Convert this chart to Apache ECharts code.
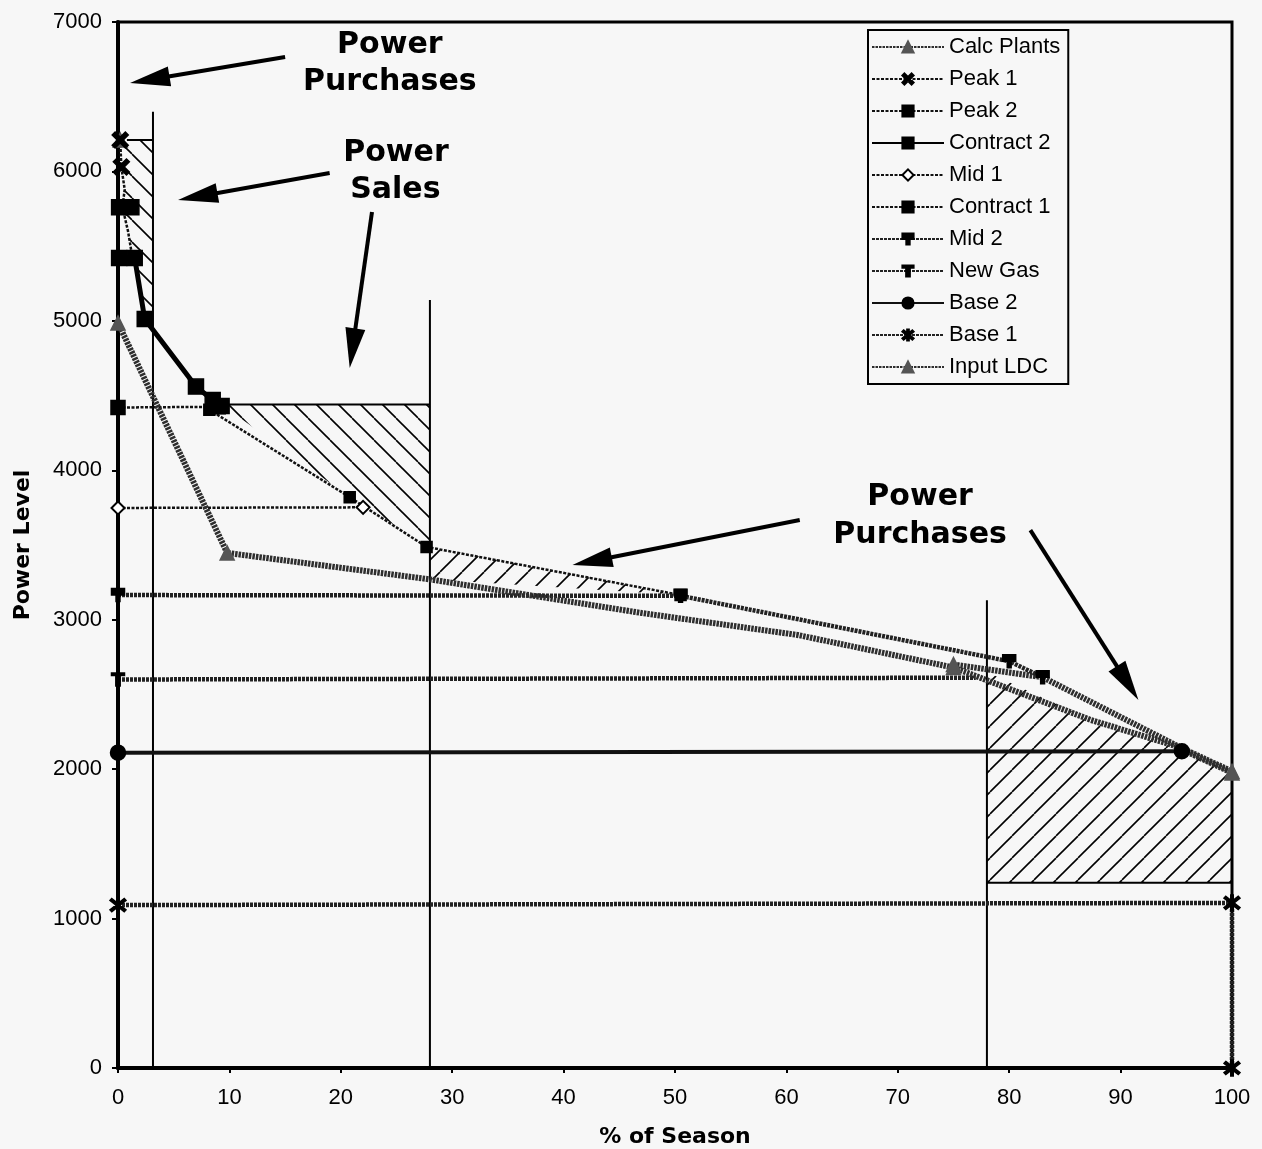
<!DOCTYPE html>
<html>
<head>
<meta charset="utf-8">
<title>Power Level vs % of Season</title>
<script src="https://cdn.jsdelivr.net/npm/echarts/dist/echarts.min.js"></script>
<style>
  html, body { margin: 0; padding: 0; background: #f7f7f7; }
  #chart { width: 1262px; height: 1149px; }
</style>
</head>
<body>
<div id="chart"></div>
<script>
// values, each point is [% of season, power level]
// null = gap in the line
var calcPlants = [[0.2, 6210], null, [75, 2700], [83, 2615], [95.5, 2140], [100, 1985]];
var peak1 = [[0.2, 6210], [0.3, 6030], [0.6, 5880], [0.4, 5760], [0.9, 5600], [1.3, 5420]];
var peak2 = [[0, 4420], [9, 4425]];
var contract2 = [[0.1, 5760], [1.2, 5760], null, [0.1, 5420], [1.5, 5420], [2.4, 5012], [7, 4560], [8.5, 4470], [9.3, 4430]];
var mid1 = [[0, 3748], [22, 3752]];
var contract1 = [[8.2, 4405], [20.8, 3820], [27.7, 3487], [50.5, 3165]];
var mid2 = [[0, 3165], [50.5, 3160], [80, 2722], [83, 2615]];
var newGas = [[0, 2600], [77, 2612]];
var base2 = [[0, 2110], [95.5, 2120]];
var base1 = [[0, 1090], [100, 1105], [100, 0]];
var inputLDC = [[0, 4986], [9.8, 3447], [28, 3270], [47, 3045], [61, 2898], [75, 2680], [87.3, 2330], [94.7, 2160], [100, 1975]];

// hatched areas (power sales / power purchases)
var salesTop = [[0.8, 6210], [3.14, 6210], [3.14, 5012], [2.4, 5012], [1.5, 5420], [1.3, 5420], [0.9, 5600], [0.4, 5760], [0.6, 5880], [0.3, 6030]];
var salesMid = [[9.3, 4440], [28, 4440], [28, 3487], [20.8, 3820]];
var purchMid = [[28, 3487], [50.5, 3165], [28, 3270]];
var purchRight = [[78, 1240], [100, 1240], [100, 1975], [94.7, 2160], [87.3, 2330], [78, 2650]];

// vertical dividers and edges of the hatched blocks
var guides = [[3.14, 0], [3.14, 6400], null, [28, 0], [28, 5140], null, [78, 0], [78, 3130], null,
  [0.8, 6210], [3.14, 6210], null, [9.3, 4440], [28, 4440], null, [78, 1240], [100, 1240]];

// annotation arrows [x1, y1, x2 (tip), y2 (tip)]
var arrows = [[15.0, 6766, 1.08, 6592], [19.0, 5989, 5.39, 5809], [22.8, 5728, 20.8, 4684],
  [61.2, 3667, 40.8, 3366], [81.9, 3600, 91.6, 2463]];
var noteText = ['Power', 'Purchases', 'Power', 'Sales', 'Power', 'Purchases'];
var notePos = [[24.4, 6846], [24.4, 6598], [24.95, 6123], [24.9, 5876], [72.0, 3821], [72.0, 3567]];

var names = ['Calc Plants', 'Peak 1', 'Peak 2', 'Contract 2', 'Mid 1', 'Contract 1', 'Mid 2', 'New Gas', 'Base 2', 'Base 1', 'Input LDC'];

var X_SYM = 'path://M1.8,0 L10,8.2 L8.2,10 L0,1.8 Z M8.2,0 L10,1.8 L1.8,10 L0,8.2 Z';
var STAR_SYM = 'path://M4.3,0 L5.7,0 L5.7,10 L4.3,10 Z M1.5,0.9 L9.5,7.9 L8.5,9.1 L0.5,2.1 Z M8.5,0.9 L9.5,2.1 L1.5,9.1 L0.5,7.9 Z';
var MID2_SYM = 'path://M0,0 L10,0 L10,5 L6.5,5 L6.5,10 L3.5,10 L3.5,5 L0,5 Z';
var TEE_SYM = 'path://M2,0 L8,0 L8,2 L6,2 L6,10 L4,10 L4,2 L2,2 Z';

function toData(arr, marks) {
  return arr.map(function (p, i) {
    if (p === null) return ['-', '-'];
    if (marks && marks.indexOf(i) < 0) return { value: p, symbol: 'none' };
    return p;
  });
}

function hatch(dir) {
  var s = 22, c = document.createElement('canvas');
  c.width = s; c.height = s;
  var g = c.getContext('2d');
  g.strokeStyle = '#000';
  g.lineWidth = 1.6;
  for (var k = -1; k <= 1; k++) {
    g.beginPath();
    if (dir === 'down') { g.moveTo(k * s, 0); g.lineTo(k * s + s, s); }
    else { g.moveTo(k * s, s); g.lineTo(k * s + s, 0); }
    g.stroke();
  }
  return c;
}
var hatchDown = hatch('down');
var hatchUp = hatch('up');

var zig = { color: '#111', width: 2.5, type: [3, 1.5] };
var tex = { color: '#222', width: 4.5, type: [3, 1] };
var thick = { color: '#2e2e2e', width: 6, type: [2.5, 1] };

function lineS(name, arr, marks, symbol, size, ls, col) {
  return {
    name: name,
    type: 'line',
    data: toData(arr, marks),
    symbol: symbol,
    symbolSize: size,
    itemStyle: { color: col, borderColor: col, borderWidth: 1.5 },
    lineStyle: ls,
    clip: false,
    z: 3
  };
}

function areaS(poly, pat) {
  return {
    type: 'custom',
    silent: true,
    z: 1,
    data: [poly[0]],
    renderItem: function (params, api) {
      return {
        type: 'polygon',
        shape: { points: poly.map(function (p) { return api.coord(p); }) },
        style: { fill: { image: pat, repeat: 'repeat' }, stroke: null }
      };
    }
  };
}

var series = [
  lineS('Calc Plants', calcPlants, [0, 2, 5], 'triangle', 14, thick, '#555'),
  lineS('Peak 1', peak1, [0, 1], X_SYM, 16, zig, '#000'),
  lineS('Peak 2', peak2, null, 'rect', 14, zig, '#000'),
  lineS('Contract 2', contract2, null, 'rect', 15, { color: '#000', width: 5 }, '#000'),
  lineS('Mid 1', mid1, null, 'emptyDiamond', 13, zig, '#000'),
  lineS('Contract 1', contract1, null, 'rect', 11, zig, '#000'),
  lineS('Mid 2', mid2, null, MID2_SYM, 13, tex, '#000'),
  lineS('New Gas', newGas, [0], TEE_SYM, 13, tex, '#000'),
  lineS('Base 2', base2, null, 'circle', 15, { color: '#111', width: 4 }, '#000'),
  lineS('Base 1', base1, null, STAR_SYM, 16, tex, '#000'),
  lineS('Input LDC', inputLDC, [0, 1, 5, 8], 'triangle', 14, thick, '#555'),
  areaS(salesTop, hatchDown),
  areaS(salesMid, hatchDown),
  areaS(purchMid, hatchUp),
  areaS(purchRight, hatchUp),
  {
    type: 'line', silent: true, z: 2, clip: false,
    data: toData(guides), symbol: 'none',
    lineStyle: { color: '#000', width: 2 }
  },
  {
    type: 'custom', silent: true, z: 5,
    data: arrows,
    encode: { x: [0, 2], y: [1, 3] },
    renderItem: function (params, api) {
      var a = api.coord([api.value(0), api.value(1)]);
      var b = api.coord([api.value(2), api.value(3)]);
      var dx = b[0] - a[0], dy = b[1] - a[1];
      var L = Math.sqrt(dx * dx + dy * dy), ux = dx / L, uy = dy / L;
      var hl = 40, hw = 10;
      var base = [b[0] - ux * hl, b[1] - uy * hl];
      return {
        type: 'group',
        children: [
          { type: 'line', shape: { x1: a[0], y1: a[1], x2: base[0] + ux * 4, y2: base[1] + uy * 4 }, style: { stroke: '#000', lineWidth: 4 } },
          { type: 'polygon', shape: { points: [b, [base[0] - uy * hw, base[1] + ux * hw], [base[0] + uy * hw, base[1] - ux * hw]] }, style: { fill: '#000' } }
        ]
      };
    }
  },
  {
    type: 'custom', silent: true, z: 5,
    data: notePos,
    renderItem: function (params, api) {
      var p = api.coord([api.value(0), api.value(1)]);
      return {
        type: 'text', x: p[0], y: p[1],
        style: {
          text: noteText[params.dataIndex], fill: '#000',
          font: 'bold 30px "DejaVu Sans", sans-serif',
          align: 'center', verticalAlign: 'middle'
        }
      };
    }
  }
];

var chart = echarts.init(document.getElementById('chart'));
chart.setOption({
  animation: false,
  backgroundColor: '#f7f7f7',
  grid: {
    left: 118, right: 30, top: 22, bottom: 81,
    containLabel: false, outerBoundsMode: 'none',
    show: true, borderColor: '#000', borderWidth: 3
  },
  legend: {
    orient: 'vertical', left: 868, top: 30,
    data: names,
    itemWidth: 72, itemHeight: 14, itemGap: 10,
    padding: [6, 8, 6, 3],
    borderColor: '#000', borderWidth: 2, backgroundColor: '#f7f7f7',
    selectedMode: false,
    textStyle: { color: '#000', fontSize: 22, fontFamily: '"Liberation Sans", Arial, sans-serif' }
  },
  xAxis: {
    type: 'value', min: 0, max: 100, interval: 10,
    name: '% of Season', nameLocation: 'middle', nameGap: 58,
    nameTextStyle: { color: '#000', fontSize: 22, fontWeight: 'bold', fontFamily: '"DejaVu Sans", sans-serif' },
    axisLine: { lineStyle: { color: '#000', width: 4 } },
    axisTick: { length: 5, lineStyle: { color: '#000', width: 2 } },
    axisLabel: { color: '#000', fontSize: 22, margin: 19, fontFamily: '"Liberation Sans", Arial, sans-serif' },
    splitLine: { show: false }
  },
  yAxis: {
    type: 'value', min: 0, max: 7000, interval: 1000,
    name: 'Power Level', nameLocation: 'middle', nameGap: 84,
    nameTextStyle: { color: '#000', fontSize: 22, fontWeight: 'bold', fontFamily: '"DejaVu Sans", sans-serif' },
    axisLine: { lineStyle: { color: '#000', width: 4 } },
    axisTick: { length: 6, lineStyle: { color: '#000', width: 2 } },
    axisLabel: {
      color: '#000', fontSize: 22, margin: 16, fontFamily: '"Liberation Sans", Arial, sans-serif',
      formatter: function (v) { return String(v); }
    },
    splitLine: { show: false }
  },
  series: series
});
</script>
</body>
</html>
